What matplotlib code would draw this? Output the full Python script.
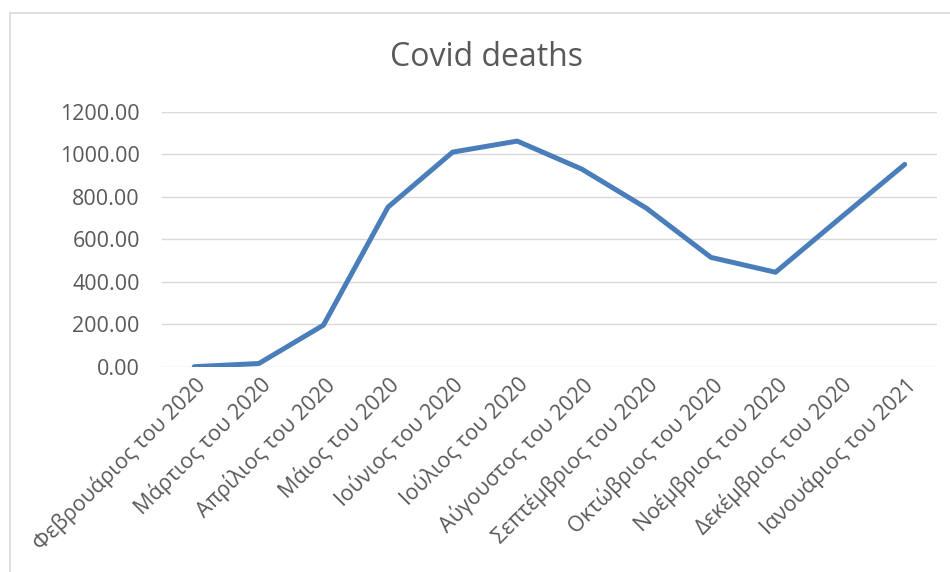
import numpy as np
import matplotlib
matplotlib.use("Agg")
import matplotlib.pyplot as plt
from matplotlib.lines import Line2D

plt.rcParams['font.family'] = ['Open Sans', 'DejaVu Sans']

months = ['Φεβρουάριος του 2020', 'Μάρτιος του 2020', 'Απρίλιος του 2020',
          'Μάιος του 2020', 'Ιούνιος του 2020', 'Ιούλιος του 2020',
          'Αύγουστος του 2020', 'Σεπτέμβριος του 2020', 'Οκτώβριος του 2020',
          'Νοέμβριος του 2020', 'Δεκέμβριος του 2020', 'Ιανουάριος του 2021']
deaths = [0, 15, 196, 752, 1011, 1063, 931, 747, 515, 445, 700, 953]
yticks = [0, 200, 400, 600, 800, 1000, 1200]

text_col = '#595959'
grid_col = '#d9d9d9'

fig = plt.figure(figsize=(9.5, 5.72), dpi=100)
ax = fig.add_axes([162/950, 1 - 366.7/572, (937 - 162)/950, (366.7 - 112)/572])

x = np.arange(len(months))
ax.plot(x, deaths, color='#4A7EBB', lw=3.6, solid_capstyle='round',
        solid_joinstyle='round', zorder=3)

ax.set_xlim(-0.5, len(months) - 0.5)
ax.set_ylim(0, 1200)
ax.set_yticks(yticks)
ax.set_yticklabels(['%.2f' % v for v in yticks])
ax.set_xticks(x)
ax.set_xticklabels(months, rotation=45, ha='right', rotation_mode='anchor')
ax.tick_params(length=0, labelsize=15.5, colors=text_col)
ax.tick_params(axis='y', pad=16)
ax.tick_params(axis='x', pad=5)
ax.yaxis.grid(True, color=grid_col, lw=1)
ax.set_axisbelow(True)
for s in ax.spines.values():
    s.set_visible(False)

fig.text(487/950, 1 - 57/572, 'Covid deaths', ha='center', va='center',
         fontsize=23, color=text_col)

# chart area border
fig.add_artist(Line2D([10/950, 1], [1 - 13/572, 1 - 13/572], color=grid_col, lw=1.2))
fig.add_artist(Line2D([10/950, 10/950], [0, 1 - 13/572], color=grid_col, lw=1.2))

fig.savefig('out.png', dpi=100)
